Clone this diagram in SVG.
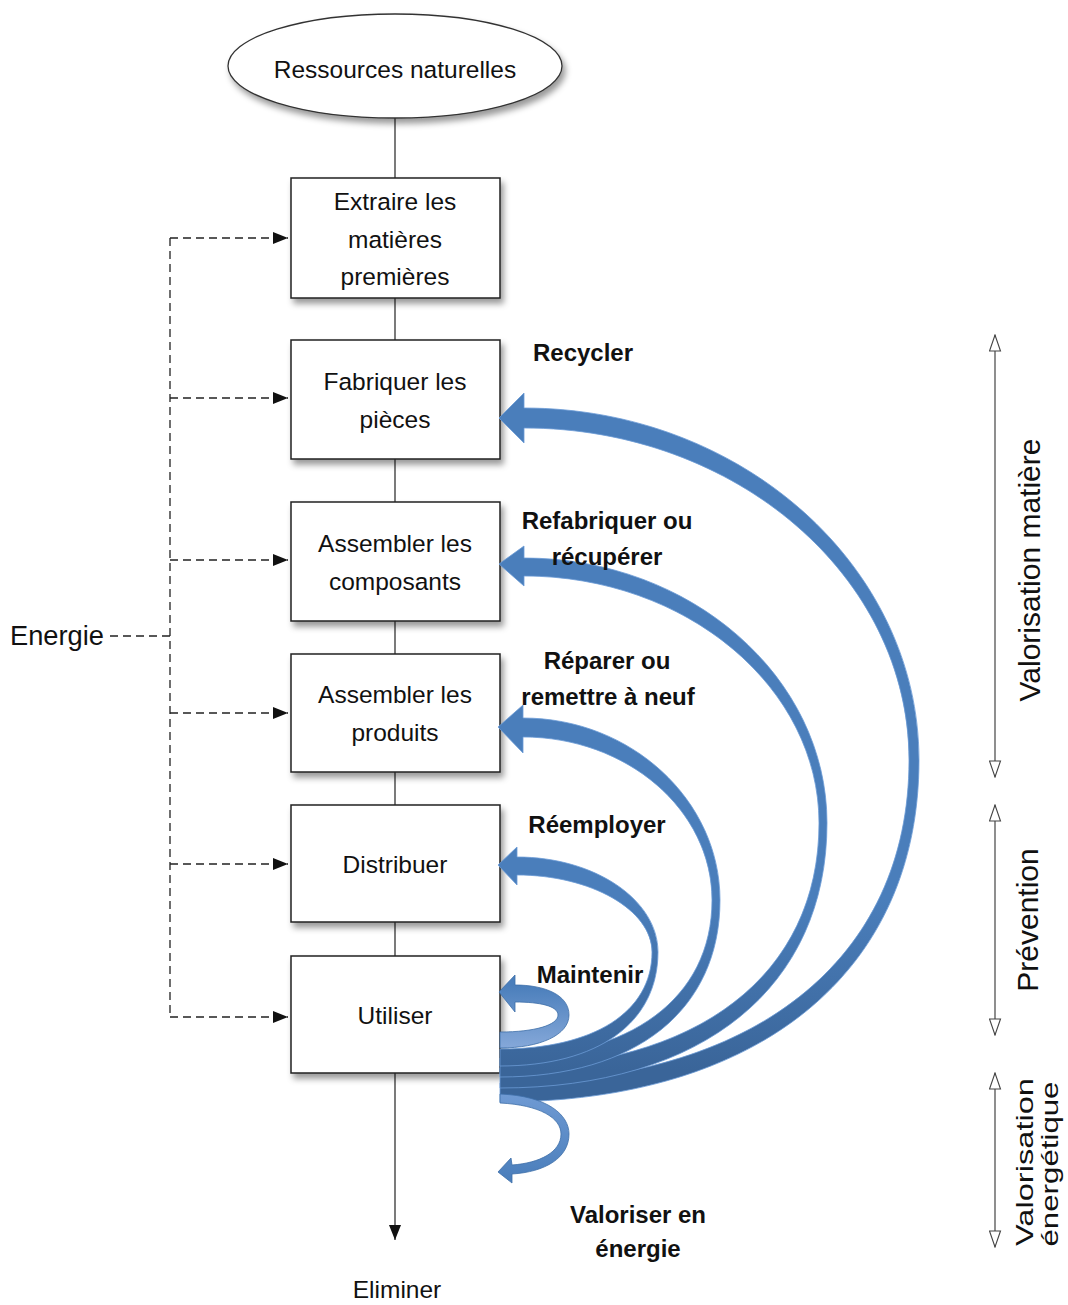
<svg xmlns="http://www.w3.org/2000/svg" width="1068" height="1305" viewBox="0 0 1068 1305">
<defs>
<style>
.box{fill:#fff;stroke:#222;stroke-width:1.5}
.t{font-family:"Liberation Sans",Arial,sans-serif;font-size:24.5px;fill:#111;text-anchor:middle}
.b{font-weight:bold;font-size:24px}
.v{font-family:"Liberation Sans",Arial,sans-serif;font-size:30px;fill:#111;text-anchor:middle}
.dash{fill:none;stroke:#222;stroke-width:1.3;stroke-dasharray:8,5}
.solid{fill:none;stroke:#333;stroke-width:1.3}
.dbl{fill:none;stroke:#444;stroke-width:1.2}
.arc{fill:url(#gArc);stroke:#6b9bd6;stroke-width:0.8}
</style>
<filter id="sh" x="-10%" y="-10%" width="130%" height="140%">
<feDropShadow dx="3" dy="5" stdDeviation="3" flood-color="#000" flood-opacity="0.4"/>
</filter>
<linearGradient id="gArc" gradientUnits="userSpaceOnUse" x1="0" y1="900" x2="0" y2="1070">
<stop offset="0" stop-color="#4a7ebb"/>
<stop offset="1" stop-color="#3a6599"/>
</linearGradient>
<linearGradient id="gMain" gradientUnits="userSpaceOnUse" x1="0" y1="985" x2="0" y2="1048">
<stop offset="0" stop-color="#4a7ebb"/>
<stop offset="1" stop-color="#85a8d9"/>
</linearGradient>
<linearGradient id="gVal" gradientUnits="userSpaceOnUse" x1="0" y1="1095" x2="0" y2="1180">
<stop offset="0" stop-color="#6f9ad3"/>
<stop offset="1" stop-color="#4a7ebb"/>
</linearGradient>
<marker id="ah" viewBox="0 0 15 12" markerWidth="15" markerHeight="12" refX="15" refY="6" orient="auto" markerUnits="userSpaceOnUse">
<path d="M0,0 L15,6 L0,12 Z" fill="#111"/>
</marker>
<marker id="oh" viewBox="-1 -1 18 13" markerWidth="18" markerHeight="13" refX="16" refY="5.5" orient="auto-start-reverse" markerUnits="userSpaceOnUse">
<path d="M0,0 L16,5.5 L0,11 Z" fill="#fff" stroke="#444" stroke-width="1.1"/>
</marker>
</defs>
<rect x="0" y="0" width="1068" height="1305" fill="#fff"/>

<g id="connectors">
<line class="solid" x1="395" y1="118" x2="395" y2="1240" marker-end="url(#ah)"/>
<path class="dash" d="M110,636 L170,636 M170,238 L170,1017"/>
<line class="dash" x1="170" y1="238" x2="288" y2="238" marker-end="url(#ah)"/>
<line class="dash" x1="170" y1="398" x2="288" y2="398" marker-end="url(#ah)"/>
<line class="dash" x1="170" y1="560" x2="288" y2="560" marker-end="url(#ah)"/>
<line class="dash" x1="170" y1="713" x2="288" y2="713" marker-end="url(#ah)"/>
<line class="dash" x1="170" y1="864" x2="288" y2="864" marker-end="url(#ah)"/>
<line class="dash" x1="170" y1="1017" x2="288" y2="1017" marker-end="url(#ah)"/>
<line class="dbl" x1="995" y1="335" x2="995" y2="777" marker-start="url(#oh)" marker-end="url(#oh)"/>
<line class="dbl" x1="995" y1="805" x2="995" y2="1035" marker-start="url(#oh)" marker-end="url(#oh)"/>
<line class="dbl" x1="995" y1="1073" x2="995" y2="1247" marker-start="url(#oh)" marker-end="url(#oh)"/>
</g>

<g id="n-ressources">
<ellipse cx="395" cy="66" rx="167" ry="52" fill="#fff" stroke="#333" stroke-width="1.3" filter="url(#sh)"/>
<text class="t" x="395" y="78">Ressources naturelles</text>
</g>
<g id="n-extraire">
<rect class="box" x="291" y="178" width="209" height="120" filter="url(#sh)"/>
<text class="t" x="395" y="210">Extraire les</text>
<text class="t" x="395" y="248">matières</text>
<text class="t" x="395" y="285">premières</text>
</g>
<g id="n-fabriquer">
<rect class="box" x="291" y="340" width="209" height="119" filter="url(#sh)"/>
<text class="t" x="395" y="390">Fabriquer les</text>
<text class="t" x="395" y="428">pièces</text>
</g>
<g id="n-assembler-composants">
<rect class="box" x="291" y="502" width="209" height="119" filter="url(#sh)"/>
<text class="t" x="395" y="552">Assembler les</text>
<text class="t" x="395" y="590">composants</text>
</g>
<g id="n-assembler-produits">
<rect class="box" x="291" y="654" width="209" height="118" filter="url(#sh)"/>
<text class="t" x="395" y="703">Assembler les</text>
<text class="t" x="395" y="741">produits</text>
</g>
<g id="n-distribuer">
<rect class="box" x="291" y="805" width="209" height="117" filter="url(#sh)"/>
<text class="t" x="395" y="873">Distribuer</text>
</g>
<g id="n-utiliser">
<rect class="box" x="291" y="956" width="209" height="117" filter="url(#sh)"/>
<text class="t" x="395" y="1024">Utiliser</text>
</g>
<g id="n-eliminer">
<text class="t" x="397" y="1298">Eliminer</text>
</g>
<g id="n-energie">
<text x="10" y="645" font-family="Liberation Sans, Arial, sans-serif" font-size="28" fill="#111" textLength="94" lengthAdjust="spacingAndGlyphs">Energie</text>
</g>

<g id="loops">
<path id="a-recycler" class="arc" d="M499,418 L524,393 L524,408 C741,408 919,566 919,760 C919,972 760,1102 500,1102 L500,1083 C754,1083 909,960 909,760 C909,577 736,428 524,428 L524,443 Z"/>
<path id="a-refabriquer" class="arc" d="M499,564 L524,546 L524,558 C691,558 827,677 827,823 C827,987 703,1088 500,1088 L500,1068 C698,1068 819,975 819,823 C819,687 686,576 524,576 L524,586 Z"/>
<path id="a-reparer" class="arc" d="M498,727 L523,705 L523,718 C631,718 720,800 720,900 C720,1010 636,1077 500,1077 L500,1058 C631,1058 712,998 712,900 C712,810 627,737 523,737 L523,753 Z"/>
<path id="a-reemployer" class="arc" d="M498,865 L517,847 L517,857 C595,857 658,900 658,952 C658,1023 598,1066 500,1066 L500,1049 C594,1049 652,1012 652,952 C652,910 591,875 517,875 L517,885 Z"/>
<path id="a-maintenir" d="M499,992 L515,975 L515,985 C545,985 569,995 569,1015 C569,1035 540,1048 500,1048 L500,1032 C535,1032 558,1025 558,1015 C558,1006 540,1002 515,1002 L515,1012 Z" fill="url(#gMain)" stroke="#3d6ea8" stroke-width="0.8"/>
<path id="a-valoriser" d="M500,1094 C548,1096 569,1115 569,1134 C569,1158 545,1172 512,1174 L512,1183 L498,1172 L511,1158 L512,1165 C540,1163 561,1152 561,1134 C561,1118 540,1105 500,1103 Z" fill="url(#gVal)" stroke="#3d6ea8" stroke-width="0.8"/>
</g>

<g id="labels">
<text class="t b" x="583" y="361">Recycler</text>
<text class="t b" x="607" y="529">Refabriquer ou</text>
<text class="t b" x="607" y="565">récupérer</text>
<text class="t b" x="607" y="669">Réparer ou</text>
<text class="t b" x="608" y="705">remettre à neuf</text>
<text class="t b" x="597" y="833">Réemployer</text>
<text class="t b" x="590" y="983">Maintenir</text>
<text class="t b" x="638" y="1223">Valoriser en</text>
<text class="t b" x="638" y="1257">énergie</text>
</g>

<g id="scale-labels">
<text class="v" transform="translate(1040,570) rotate(-90)" x="0" y="0">Valorisation matière</text>
<text class="v" transform="translate(1038,920) rotate(-90)" x="0" y="0">Prévention</text>
<text class="v" transform="translate(1033,1162) rotate(-90)" x="0" y="0" style="font-size:24px" textLength="168" lengthAdjust="spacingAndGlyphs">Valorisation</text>
<text class="v" transform="translate(1058,1164) rotate(-90)" x="0" y="0" style="font-size:24px" textLength="165" lengthAdjust="spacingAndGlyphs">énergétique</text>
</g>
</svg>
